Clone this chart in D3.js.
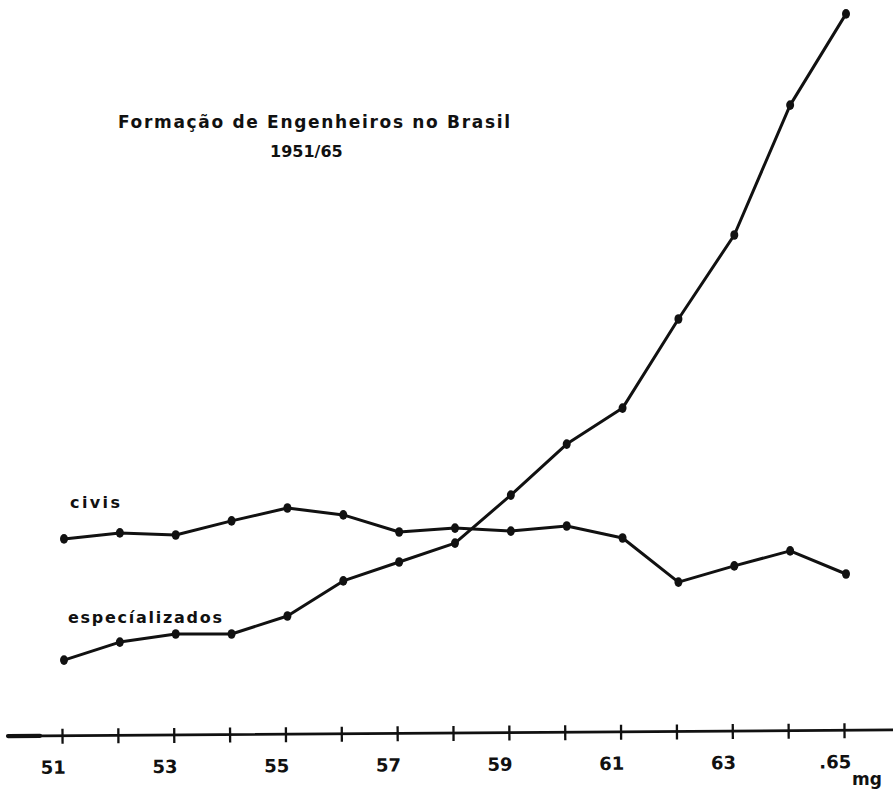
<!DOCTYPE html>
<html>
<head>
<meta charset="utf-8">
<script src="https://cdn.jsdelivr.net/npm/d3@7/dist/d3.min.js"></script>
<style>
  html, body { margin: 0; padding: 0; background: #fff; }
  svg { display: block; }
  text { font-family: "DejaVu Sans", sans-serif; fill: #111; }
</style>
</head>
<body>
<svg id="chart" width="893" height="790"></svg>
<script>
// ---- data (units = relative number of graduates) ----
const years = [1951,1952,1953,1954,1955,1956,1957,1958,1959,1960,1961,1962,1963,1964,1965];
const civis = [647,667,660,707,750,727,670,683,673,690,650,503,557,607,530];
const especializados = [243,303,330,330,390,507,570,633,793,963,1083,1380,1660,2093,2397];
const tickYears = [1951,1952,1953,1954,1955,1956,1957,1958,1959,1960,1961,1962,1963,1964,1965];
const labelYears = [1951,1953,1955,1957,1959,1961,1963,1965];
const labelText = ["51","53","55","57","59","61","63",".65"];
const titleLines = ["Formação de Engenheiros no Brasil", "1951/65"];
const seriesNames = ["civis", "especíalizados"];

const svg = d3.select("#chart");

const x = d3.scaleLinear().domain([1951, 1965]).range([64, 846]);
const y = d3.scaleLinear().domain([0, 2400]).range([733, 13]);

// ---- axis (slightly tilted, as in the scan) ----
const axisG = svg.append("g").attr("transform", "rotate(-0.4, 450, 731)");
axisG.append("line")
  .attr("x1", 8).attr("x2", 893).attr("y1", y(0)).attr("y2", y(0))
  .attr("stroke", "#111").attr("stroke-width", 2.8).attr("stroke-linecap", "round");
axisG.append("line")
  .attr("x1", 8).attr("x2", 40).attr("y1", y(0)).attr("y2", y(0))
  .attr("stroke", "#111").attr("stroke-width", 4.2).attr("stroke-linecap", "round");
const xAxis = d3.axisBottom(x).tickValues(tickYears).tickSize(0).tickFormat("");
const ax = axisG.append("g").attr("transform", `translate(-2,${y(0)})`).call(xAxis);
ax.select(".domain").remove();
ax.selectAll(".tick").append("line")
  .attr("y1", -7).attr("y2", 8)
  .attr("stroke", "#111").attr("stroke-width", 2.3);
axisG.selectAll("text.tl")
  .data(labelYears)
  .enter().append("text")
  .attr("class", "tl")
  .attr("x", d => x(d) - 11)
  .attr("y", y(0) + 38)
  .attr("text-anchor", "middle")
  .attr("font-size", 18)
  .attr("font-weight", "bold")
  .text((d, i) => labelText[i]);
svg.append("text")
  .attr("x", 852).attr("y", 785)
  .attr("font-size", 17).attr("font-weight", "bold")
  .text("mg");

// ---- lines ----
const line = d3.line().x((d, i) => x(years[i])).y(d => y(d));
[civis, especializados].forEach(series => {
  svg.append("path")
    .datum(series)
    .attr("d", line)
    .attr("fill", "none")
    .attr("stroke", "#111")
    .attr("stroke-width", 3)
    .attr("stroke-linejoin", "round");
  svg.append("g").selectAll("ellipse")
    .data(series)
    .enter().append("ellipse")
    .attr("cx", (d, i) => x(years[i]))
    .attr("cy", d => y(d))
    .attr("rx", 4).attr("ry", 4.8)
    .attr("fill", "#111");
});

// ---- series labels ----
svg.append("text")
  .attr("x", 70).attr("y", 508)
  .attr("font-size", 16).attr("font-weight", "bold")
  .attr("textLength", 50).attr("lengthAdjust", "spacing")
  .text(seriesNames[0]);
svg.append("text")
  .attr("x", 68).attr("y", 623)
  .attr("font-size", 16).attr("font-weight", "bold")
  .attr("textLength", 154).attr("lengthAdjust", "spacing")
  .text(seriesNames[1]);

// ---- title ----
svg.append("text")
  .attr("x", 118).attr("y", 128)
  .attr("font-size", 17).attr("font-weight", "bold")
  .attr("textLength", 392).attr("lengthAdjust", "spacing")
  .text(titleLines[0]);
svg.append("text")
  .attr("x", 270).attr("y", 157)
  .attr("font-size", 16).attr("font-weight", "bold")
  .text(titleLines[1]);
</script>
</body>
</html>
